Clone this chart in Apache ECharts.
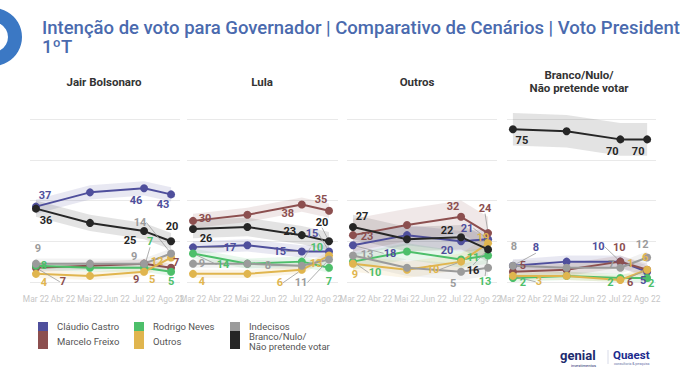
<!DOCTYPE html>
<html><head><meta charset="utf-8">
<script src="https://cdn.jsdelivr.net/npm/echarts@6/dist/echarts.min.js"></script>
<style>html,body{margin:0;padding:0;background:#fff}#c{width:680px;height:382px}</style>
</head><body><div id="c"></div>
<script>
// ---------- DATA ----------
const months = ['Mar 22','Abr 22','Mai 22','Jun 22','Jul 22','Ago 22'];
const pollMonth = [0, 2, 4, 5]; // Mar, Mai, Jul, Ago (index into months)
const panelTitles = ['Jair Bolsonaro','Lula','Outros','Branco/Nulo/\nNão pretende votar'];
const candidates = ['Cláudio Castro','Marcelo Freixo','Rodrigo Neves','Outros','Indecisos','Branco/Nulo/\nNão pretende votar'];
// rows follow the candidates order; columns follow pollMonth
const votoBolsonaro  = [[37,44,46,43],[7,8,9,7],[8,7,7,5],[4,3,5,12],[9,9,9,14],[36,29,25,20]];
const votoLula       = [[17,18,15,15],[30,33,38,35],[14,9,10,7],[4,4,6,13],[9,9,8,11],[26,27,23,20]];
const votoOutros     = [[18,23,20,21],[23,28,32,24],[10,15,11,13],[9,6,10,19],[13,7,5,7],[27,21,22,16]];
const votoBrancoNulo = [[8,10,10,5],[5,6,10,6],[2,3,2,2],[3,3,1,6],[8,7,7,12],[75,74,70,70]];
// half-width of the shaded band around each line (points)
const margemBolsonaro  = [3.5,2,2,2,2.5,4];
const margemLula       = [3,3.5,2.5,2,2,4.5];
const margemOutros     = [5,8,4,4,4,6];
const margemBrancoNulo = [3,3,2,2,3,8];

// ---------- STYLE / LAYOUT ----------
const panels = [votoBolsonaro, votoLula, votoOutros, votoBrancoNulo];
const margins = [margemBolsonaro, margemLula, margemOutros, margemBrancoNulo];
const COLORS = ['#4f4f9c','#8c4f4f','#4dbf6a','#e0b54e','#9b9b9b','#262626'];
const GRID_LEFT = [30,187,347,507];
const GRID_W = [150,151,150,149];
const GRID_TOP = 119, GRID_H = 163;
const TITLE_X = [104,262,417,579];
const FONT = 'Roboto, "Noto Sans", sans-serif';
// label offsets [dx,dy] per panel / candidate / point (null = no label)
const LABEL_OFF = [
  [ [[9,-11],null,[-8,12],[-8,10]],
    [[27,14],null,[-8,16],[5,-5]],
    [[8,0],null,[6,-26],[0,10]],
    [[8,9],null,[8,8],[-14,4]],
    [[2,-15],null,[-10,-7],[-31,-31]],
    [[10,12],null,[-14,9],[1,-15]] ],
  [ [[37,0],null,[-22,0],[-17,-18]],
    [[12,-2],null,[-14,9],[-8,-11]],
    [[30,11],null,[15,-14],[0,14]],
    [[9,8],null,[-22,13],[-13,8]],
    [[9,0],null,[-34,0],[-28,23]],
    [[13,9],null,[-12,-4],[-7,-19]] ],
  [ [[37,8],null,[-14,9],[-21,-11]],
    [[14,1],null,[-8,-10],[-3,-25]],
    [[22,11],null,[12,-2],[-3,26]],
    [[2,11],null,[-28,8],[-5,-6]],
    [[14,-1],null,[-8,12],null],
    [[9,-10],null,[-14,-7],[-15,21]] ],
  [ [[23,-18],null,[-22,-15],[-4,9]],
    [[10,-6],null,[-1,-14],[-17,13]],
    [[10,5],null,[-10,5],[4,6]],
    [[26,6],null,[10,-16],[-2,-12]],
    [[1,-19],null,[-9,-3],[-5,-13]],
    [[9,11],null,[-8,12],[-9,12]] ]
];

const grid = [], xAxis = [], yAxis = [], series = [];
panels.forEach((rows, p) => {
  grid.push({left: GRID_LEFT[p], top: GRID_TOP, width: GRID_W[p], height: GRID_H});
  xAxis.push({gridIndex: p, type: 'value', min: -0.22, max: 5.33,
    axisLine: {show: false}, axisTick: {show: false}, splitLine: {show: false},
    axisLabel: {customValues: [0,1,2,3,4,5], formatter: v => months[Math.round(v)] || '',
      showMinLabel: true, showMaxLabel: true, hideOverlap: false,
      color: '#c6c6c6', fontSize: 8.4, fontFamily: FONT, margin: 13}});
  yAxis.push({gridIndex: p, type: 'value', min: 0, max: 80, interval: 20,
    axisLine: {show: false}, axisTick: {show: false}, axisLabel: {show: false},
    splitLine: {lineStyle: {color: '#e9e9e9', width: 1}}});
  // bands
  rows.forEach((vals, c) => {
    const m = margins[p][c];
    series.push({type: 'custom', xAxisIndex: p, yAxisIndex: p, silent: true, z: 1,
      data: [[0, 0]],
      renderItem: (params, api) => {
        const up = vals.map((v, i) => api.coord([pollMonth[i], v + m]));
        const lo = vals.map((v, i) => api.coord([pollMonth[i], Math.max(0, v - m)])).reverse();
        return {type: 'polygon', shape: {points: up.concat(lo)},
          style: {fill: COLORS[c], opacity: 0.13}};
      }});
  });
  // lines
  rows.forEach((vals, c) => {
    const offs = LABEL_OFF[p][c];
    series.push({type: 'line', name: candidates[c], xAxisIndex: p, yAxisIndex: p, z: 3,
      clip: false, symbol: 'circle', symbolSize: 8, animation: false,
      lineStyle: {width: 2, color: COLORS[c]}, itemStyle: {color: COLORS[c]},
      label: {show: true, position: 'inside', formatter: q => q.value[1],
        color: COLORS[c], fontWeight: 'bold', fontSize: 11, fontFamily: FONT},
      labelLine: {show: false, lineStyle: {color: '#9a9a9a', width: 0.8}},
      labelLayout: (prm) => {
        const o = offs[prm.dataIndex];
        return o ? {dx: o[0], dy: o[1], hideOverlap: false} : {};
      },
      data: vals.map((v, i) => {
        const o = offs[i];
        return {value: [pollMonth[i], v],
          label: {show: !!o},
          labelLine: {show: !!o && Math.hypot(o[0], o[1]) > 20}};
      })});
  });
});

const graphic = [
  {type: 'ring', shape: {cx: -7, cy: 37, r: 29, r0: 15}, style: {fill: '#3b78c4'}},
  {type: 'text', x: 42, y: 37.5, style: {text: 'Intenção de voto para Governador | Comparativo de Cenários | Voto Presidente\n1ºT',
     font: '500 18.5px ' + FONT, fill: '#4a6aae', lineHeight: 19, verticalAlign: 'middle', textVerticalAlign: 'middle'}}
];
panelTitles.forEach((t, p) => {
  const multi = t.indexOf('\n') >= 0;
  graphic.push({type: 'text', x: TITLE_X[p], y: multi ? 81.5 : 82,
    style: {text: t, font: 'bold 11.5px ' + FONT, fill: '#333', lineHeight: 13,
      align: 'center', textAlign: 'center', verticalAlign: 'middle', textVerticalAlign: 'middle'}});
});
// legend
const LEG_X = [38, 134, 230];
const legOrder = [[0,1],[2,3],[4,5]];
legOrder.forEach((pair, col) => {
  graphic.push({type: 'rect', shape: {x: LEG_X[col], y: 322, width: 10, height: 9}, style: {fill: COLORS[pair[0]]}});
  graphic.push({type: 'rect', shape: {x: LEG_X[col], y: 331, width: 10, height: 18}, style: {fill: COLORS[pair[1]]}});
  graphic.push({type: 'text', x: LEG_X[col] + 19, y: 326.5,
    style: {text: candidates[pair[0]], font: '9.5px ' + FONT, fill: '#555', lineHeight: 9.5,
      verticalAlign: 'middle', textVerticalAlign: 'middle'}});
  const multi = candidates[pair[1]].indexOf('\n') >= 0;
  graphic.push({type: 'text', x: LEG_X[col] + 19, y: multi ? 341.3 : 341,
    style: {text: candidates[pair[1]], font: '9.5px ' + FONT, fill: '#555', lineHeight: 9.5,
      verticalAlign: 'middle', textVerticalAlign: 'middle'}});
});
// logos
graphic.push({type: 'text', x: 560, y: 355, style: {text: 'genial', font: 'bold 13px ' + FONT, fill: '#1d2b6e', verticalAlign: 'middle', textVerticalAlign: 'middle'}});
graphic.push({type: 'text', x: 571, y: 365, style: {text: 'investimentos', font: '4px ' + FONT, fill: '#1d2b6e', verticalAlign: 'middle', textVerticalAlign: 'middle'}});
graphic.push({type: 'line', shape: {x1: 608, y1: 350, x2: 608, y2: 364}, style: {stroke: '#d8dbe8', lineWidth: 1}});
graphic.push({type: 'text', x: 613, y: 355, style: {text: 'Quaest', font: 'bold 11.5px ' + FONT, fill: '#1d2b8e', verticalAlign: 'middle', textVerticalAlign: 'middle'}});
graphic.push({type: 'text', x: 614, y: 363.5, style: {text: 'consultoria & pesquisa', font: '3.5px ' + FONT, fill: '#6a74a8', verticalAlign: 'middle', textVerticalAlign: 'middle'}});

const chart = echarts.init(document.getElementById('c'), null, {renderer: 'svg'});
chart.setOption({animation: false, backgroundColor: '#fff', grid, xAxis, yAxis, series, graphic});
</script></body></html>
